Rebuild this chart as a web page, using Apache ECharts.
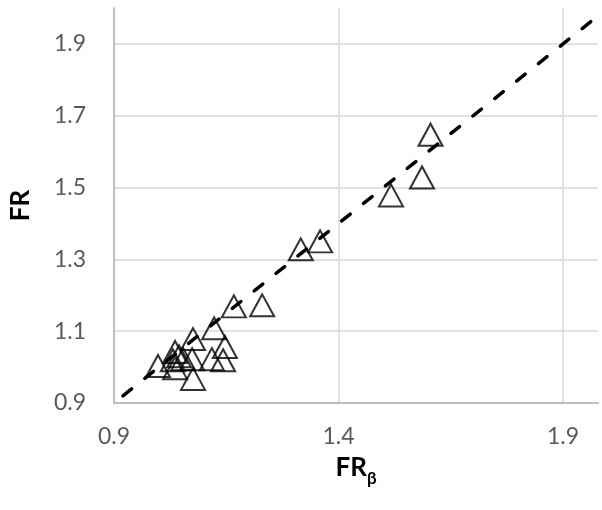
<!DOCTYPE html>
<html>
<head>
<meta charset="utf-8">
<script src="https://cdn.jsdelivr.net/npm/echarts@6/dist/echarts.min.js"></script>
<style>
  html, body { margin: 0; padding: 0; background: #fff; }
  #chart { width: 602px; height: 510px; }
</style>
</head>
<body>
<div id="chart"></div>
<script>
// FR_beta (x) vs FR (y)
const frBeta = [1.605, 1.586, 1.517, 1.359, 1.316, 1.230, 1.167, 1.123, 1.076, 1.147,
                1.036, 1.118, 1.143, 1.074, 1.054, 1.031, 0.998, 1.076, 1.036, 1.045];
const fr     = [1.647, 1.528, 1.478, 1.350, 1.328, 1.172, 1.169, 1.108, 1.078, 1.056,
                1.042, 1.022, 1.019, 1.022, 1.022, 1.019, 1.003, 0.967, 0.997, 1.030];
// 1:1 reference line
const refLine = [0.92, 1.97];

const points = frBeta.map((x, i) => [x, fr[i]]);
const linePts = refLine.map(v => [v, v]);

const labelStyle = { color: '#595959', fontSize: 23, fontFamily: 'Lato' };

const chart = echarts.init(document.getElementById('chart'));
chart.setOption({
  animation: false,
  backgroundColor: '#fff',
  grid: { left: 114, right: 4, top: 8, bottom: 107 },
  xAxis: {
    type: 'value',
    min: 0.9, max: 1.978, interval: 0.5,
    name: '{a|FR}{b|β}',
    nameLocation: 'middle',
    nameGap: 46,
    nameTextStyle: {
      rich: {
        a: { fontSize: 26, fontWeight: 'bold', fontFamily: 'Lato', color: '#000', lineHeight: 38 },
        b: { fontSize: 17, fontWeight: 'bold', fontFamily: 'Lato', color: '#000', lineHeight: 19, verticalAlign: 'bottom' }
      }
    },
    axisLine: { lineStyle: { color: '#BFBFBF', width: 2 } },
    axisTick: { show: false },
    axisLabel: Object.assign({ margin: 22, showMaxLabel: false }, labelStyle),
    splitLine: { show: true, showMinLine: false, showMaxLine: false, lineStyle: { color: '#D9D9D9', width: 1.5 } }
  },
  yAxis: {
    type: 'value',
    min: 0.9, max: 2.0, interval: 0.2,
    name: 'FR',
    nameLocation: 'middle',
    nameGap: 80,
    nameTextStyle: { fontSize: 26, fontWeight: 'bold', fontFamily: 'Lato', color: '#000' },
    axisLine: { show: true, lineStyle: { color: '#BFBFBF', width: 2 } },
    axisTick: { show: false },
    axisLabel: Object.assign({ margin: 28, showMaxLabel: false }, labelStyle),
    splitLine: { show: true, showMinLine: false, showMaxLine: false, lineStyle: { color: '#D9D9D9', width: 1.5 } }
  },
  series: [
    {
      type: 'line',
      data: linePts,
      symbol: 'none',
      silent: true,
      z: 2,
      lineStyle: { color: '#000', width: 3.5, type: [11, 17], cap: 'round' }
    },
    {
      type: 'scatter',
      data: points,
      symbol: 'triangle',
      symbolSize: [24, 22],
      z: 3,
      itemStyle: { color: 'rgba(0,0,0,0)', borderColor: '#000', borderWidth: 2 }
    }
  ]
});
</script>
</body>
</html>
